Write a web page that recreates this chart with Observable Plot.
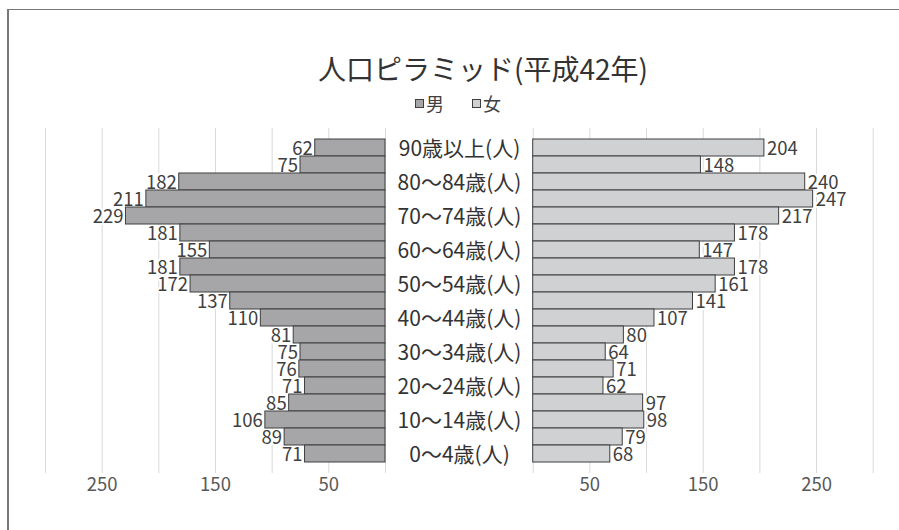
<!DOCTYPE html>
<html>
<head>
<meta charset="utf-8">
<script src="https://cdn.jsdelivr.net/npm/d3@7"></script>
<script src="https://cdn.jsdelivr.net/npm/@observablehq/plot@0.6"></script>
<style>
  html, body { margin: 0; padding: 0; overflow: hidden; }
  body { width: 899px; height: 530px; background: #fff; font-family: "Noto Sans CJK JP", "Noto Sans", sans-serif; }
  #wrap { position: relative; width: 899px; height: 530px; overflow: hidden; }
  .abs { position: absolute; }
  #frame { position: absolute; left: 7px; top: 9px; width: 1000px; height: 1000px; border-left: 2px solid #777; border-top: 1.5px solid #777; pointer-events: none; }
  .title { left: 283px; top: 54px; width: 400px; text-align: center; font-size: 28px; line-height: 28px; color: #333333; white-space: nowrap; }
  .sw { width: 9px; height: 9px; box-sizing: border-box; border: 1px solid #404040; }
  .lg { font-size: 18px; line-height: 18px; color: #404040; }
</style>
</head>
<body>
<div id="wrap">
  <div id="left" class="abs" style="left:0;top:0"></div>
  <div id="mid" class="abs" style="left:386px;top:0"></div>
  <div id="right" class="abs" style="left:532px;top:0"></div>
  <div class="abs title">人口ピラミッド(平成42年)</div>
  <div class="abs sw" style="left:415px;top:99px;background:#a6a6a8"></div>
  <div class="abs lg" style="left:426px;top:94px">男</div>
  <div class="abs sw" style="left:472px;top:99px;background:#d0d1d3"></div>
  <div class="abs lg" style="left:483px;top:94px">女</div>
  <div id="frame"></div>
</div>
<script>
const ageGroups = ["90歳以上(人)","85～89歳(人)","80～84歳(人)","75～79歳(人)","70～74歳(人)","65～69歳(人)","60～64歳(人)","55～59歳(人)","50～54歳(人)","45～49歳(人)","40～44歳(人)","35～39歳(人)","30～34歳(人)","25～29歳(人)","20～24歳(人)","15～19歳(人)","10～14歳(人)","5～9歳(人)","0～4歳(人)"];
const male   = [62,75,182,211,229,181,155,181,172,137,110,81,75,76,71,85,106,89,71];
const female = [204,148,240,247,217,178,147,178,161,141,107,80,64,71,62,97,98,79,68];
const tickLabels = [250,150,50];
const gridValues = [0,50,100,150,200,250,300];

const rows = ageGroups.map((age, i) => ({age, male: male[i], female: female[i], show: i % 2 === 0}));

const H = 530, MT = 128, MB = 57;
const yRange = [139, 462.3];
const baseStyle = {fontFamily: '"Noto Sans CJK JP", "Noto Sans", sans-serif', fontSize: "18.5px", color: "#595959", background: "transparent"};

const leftPlot = Plot.plot({
  width: 386, height: H, marginLeft: 45, marginRight: 1, marginTop: MT, marginBottom: MB,
  style: baseStyle,
  x: {domain: [300, 0], ticks: tickLabels, tickSize: 0, tickPadding: 4, label: null},
  y: {domain: ageGroups, range: yRange, padding: 0, axis: null},
  marks: [
    Plot.ruleX(gridValues, {stroke: "#d9d9d9", strokeWidth: 1}),
    Plot.text(rows, {x: "male", y: "age", text: d => String(d.male), textAnchor: "end", dx: -2.5, dy: 1, fill: "#404040", stroke: "white", strokeWidth: 4, paintOrder: "stroke", fontSize: 18.5}),
    Plot.barX(rows, {x: "male", y: "age", fill: "#a6a6a8", stroke: "#3f3f3f", strokeWidth: 1})
  ]
});
document.getElementById("left").appendChild(leftPlot);

const midPlot = Plot.plot({
  width: 146, height: H, marginLeft: 0, marginRight: 0, marginTop: MT, marginBottom: MB,
  style: baseStyle,
  y: {domain: ageGroups, range: yRange, padding: 0, axis: null},
  marks: [
    Plot.text(rows.filter(d => d.show), {y: "age", text: "age", frameAnchor: "middle", dy: 1, fontSize: 21, fill: "#333333"})
  ]
});
document.getElementById("mid").appendChild(midPlot);

const rightPlot = Plot.plot({
  width: 367, height: H, marginLeft: 0.7, marginRight: 26.3, marginTop: MT, marginBottom: MB,
  style: baseStyle,
  x: {domain: [0, 300], ticks: tickLabels, tickSize: 0, tickPadding: 4, label: null},
  y: {domain: ageGroups, range: yRange, padding: 0, axis: null},
  marks: [
    Plot.ruleX(gridValues, {stroke: "#d9d9d9", strokeWidth: 1}),
    Plot.text(rows, {x: "female", y: "age", text: d => String(d.female), textAnchor: "start", dx: 2.5, dy: 1, fill: "#404040", stroke: "white", strokeWidth: 4, paintOrder: "stroke", fontSize: 18.5}),
    Plot.barX(rows, {x: "female", y: "age", fill: "#d0d1d3", stroke: "#3f3f3f", strokeWidth: 1})
  ]
});
document.getElementById("right").appendChild(rightPlot);
</script>
</body>
</html>
